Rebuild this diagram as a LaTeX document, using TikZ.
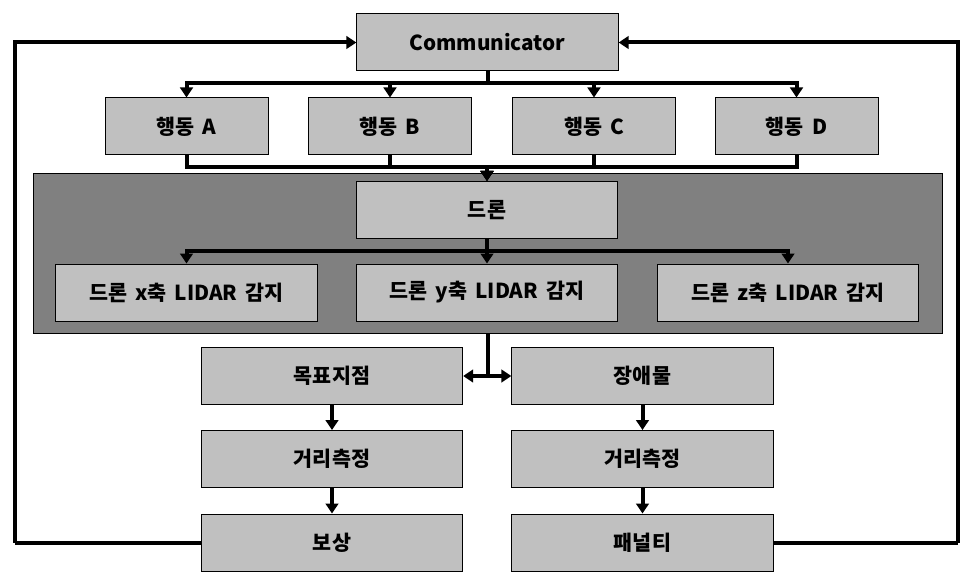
\documentclass[tikz,border=0pt]{standalone}
\usepackage{fontspec}
\setmainfont{Noto Sans CJK KR}[WordSpace=1.7]
\usepackage{tikz}
\usetikzlibrary{arrows.meta}
\definecolor{boxgray}{RGB}{192,192,192}
\definecolor{panelgray}{RGB}{128,128,128}

\begin{document}
\begin{tikzpicture}[x=0.75pt,y=-0.75pt,
  box/.style={draw,rectangle,fill=boxgray,line width=0.75pt,minimum height=42.75pt,inner sep=0pt,font=\fontsize{15.5}{18}\selectfont\bfseries},
  widebox/.style={box,minimum width=196pt},
  actbox/.style={box,minimum width=122.25pt},
  flow/.style={line width=3pt,-{Triangle[length=7.5pt,width=9.5pt]}},
  feed/.style={line width=3pt}]
\useasboundingbox (0,0) rectangle (976,585);
\node[draw,rectangle,fill=panelgray,line width=0.75pt,minimum width=681.75pt,minimum height=119.25pt,inner sep=0pt] (panel) at (487.5,253.5) {};
\node[widebox] (comm) at (487.5,42.5) {Communicator};
\node[actbox] (actA) at (186.5,126.5) {행동 A};
\node[actbox] (actB) at (390,126.5) {행동 B};
\node[actbox] (actC) at (594,126.5) {행동 C};
\node[actbox] (actD) at (796.5,126.5) {행동 D};
\node[widebox] (drone) at (487,210) {드론};
\node[widebox] (lidx) at (186.5,292.5) {드론 x축 LIDAR 감지};
\node[widebox] (lidy) at (487,292.5) {드론 y축 LIDAR 감지};
\node[widebox] (lidz) at (788,292.5) {드론 z축 LIDAR 감지};
\node[widebox] (goal) at (332,376) {목표지점};
\node[widebox] (gdist) at (332,459) {거리측정};
\node[widebox] (reward) at (332,542.5) {보상};
\node[widebox] (obst) at (642.5,376) {장애물};
\node[widebox] (odist) at (642.5,459) {거리측정};
\node[widebox] (penalty) at (642.5,542.5) {패널티};
\coordinate (lcorner) at (15,542.5);
\coordinate (rcorner) at (958,542.5);
\draw[flow] (comm.south) -- ++(0,12) -| (actA.north);
\draw[flow] (comm.south) -- ++(0,12) -| (actB.north);
\draw[flow] (comm.south) -- ++(0,12) -| (actC.north);
\draw[flow] (comm.south) -- ++(0,12) -| (actD.north);
\draw[flow] (actA.south) -- ++(0,12) -| (drone.north);
\draw[flow] (actB.south) -- ++(0,12) -| (drone.north);
\draw[flow] (actC.south) -- ++(0,12) -| (drone.north);
\draw[flow] (actD.south) -- ++(0,12) -| (drone.north);
\draw[flow] (drone.south) -- ++(0,12) -| (lidx.north);
\draw[flow] (drone.south) -- ++(0,12) -| (lidy.north);
\draw[flow] (drone.south) -- ++(0,12) -| (lidz.north);
\draw[flow] (panel.south) |- (goal.east);
\draw[flow] (panel.south) |- (obst.west);
\draw[flow] (goal) -- (gdist);
\draw[flow] (gdist) -- (reward);
\draw[flow] (obst) -- (odist);
\draw[flow] (odist) -- (penalty);
\draw[feed] (reward.west) -- (lcorner);
\draw[flow] (lcorner) |- (comm.west);
\draw[feed] (penalty.east) -- (rcorner);
\draw[flow] (rcorner) |- (comm.east);
\end{tikzpicture}
\end{document}
